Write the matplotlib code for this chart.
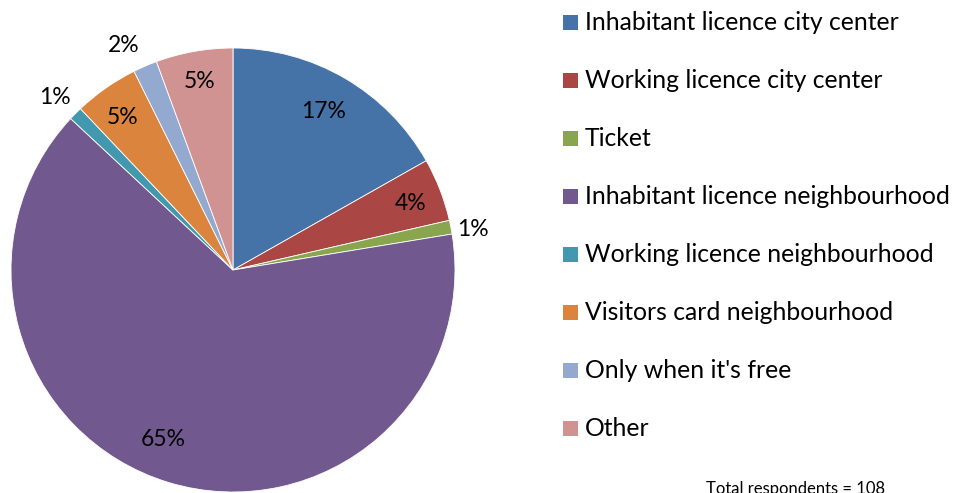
import matplotlib
matplotlib.use("Agg")
import matplotlib.pyplot as plt
from matplotlib.patches import Rectangle

categories = ["Inhabitant licence city center", "Working licence city center", "Ticket",
              "Inhabitant licence neighbourhood", "Working licence neighbourhood",
              "Visitors card neighbourhood", "Only when it's free", "Other"]
values = [16.8, 4.6, 1.0, 64.5, 1.0, 4.7, 1.75, 5.6]
pct_labels = ["17%", "4%", "1%", "65%", "1%", "5%", "2%", "5%"]
colors = ["#4572A7", "#AA4643", "#89A54E", "#71588F", "#4198AF", "#DB843D", "#93A9CF", "#D19392"]
note = "Total respondents = 108"

W, H = 960, 493
plt.rcParams['font.family'] = ['Lato', 'DejaVu Sans']
fig = plt.figure(figsize=(W / 100, H / 100), dpi=100)
ax = fig.add_axes([0, 0, 1, 1])

cx, cy, r = 233, H - 270, 222
wedges, _ = ax.pie(values, colors=colors, startangle=90, counterclock=False,
                   center=(cx, cy), radius=r, frame=True,
                   wedgeprops=dict(edgecolor='white', linewidth=0.6))
ax.set_xlim(0, W)
ax.set_ylim(0, H)
ax.set_aspect('equal')
ax.axis('off')

label_pos = [(324, 112), (411, 204), (473, 229), (163, 440), (55, 97), (123, 118), (124, 46), (200, 82)]
for (px, py), t in zip(label_pos, pct_labels):
    ax.text(px, H - py, t, ha='center', va='center', fontsize=16.5, color='black')

# legend
y0, dy = 22, 58
for i, (c, name) in enumerate(zip(colors, categories)):
    yc = y0 + i * dy
    ax.add_patch(Rectangle((563, H - yc - 7.5), 15, 15, facecolor=c, edgecolor='none'))
    ax.text(585, H - yc, name, ha='left', va='center', fontsize=17.8, color='black')

ax.text(796, H - 481, note, ha='center', va='top', fontsize=12, color='black')

fig.savefig("out.png", dpi=100)
